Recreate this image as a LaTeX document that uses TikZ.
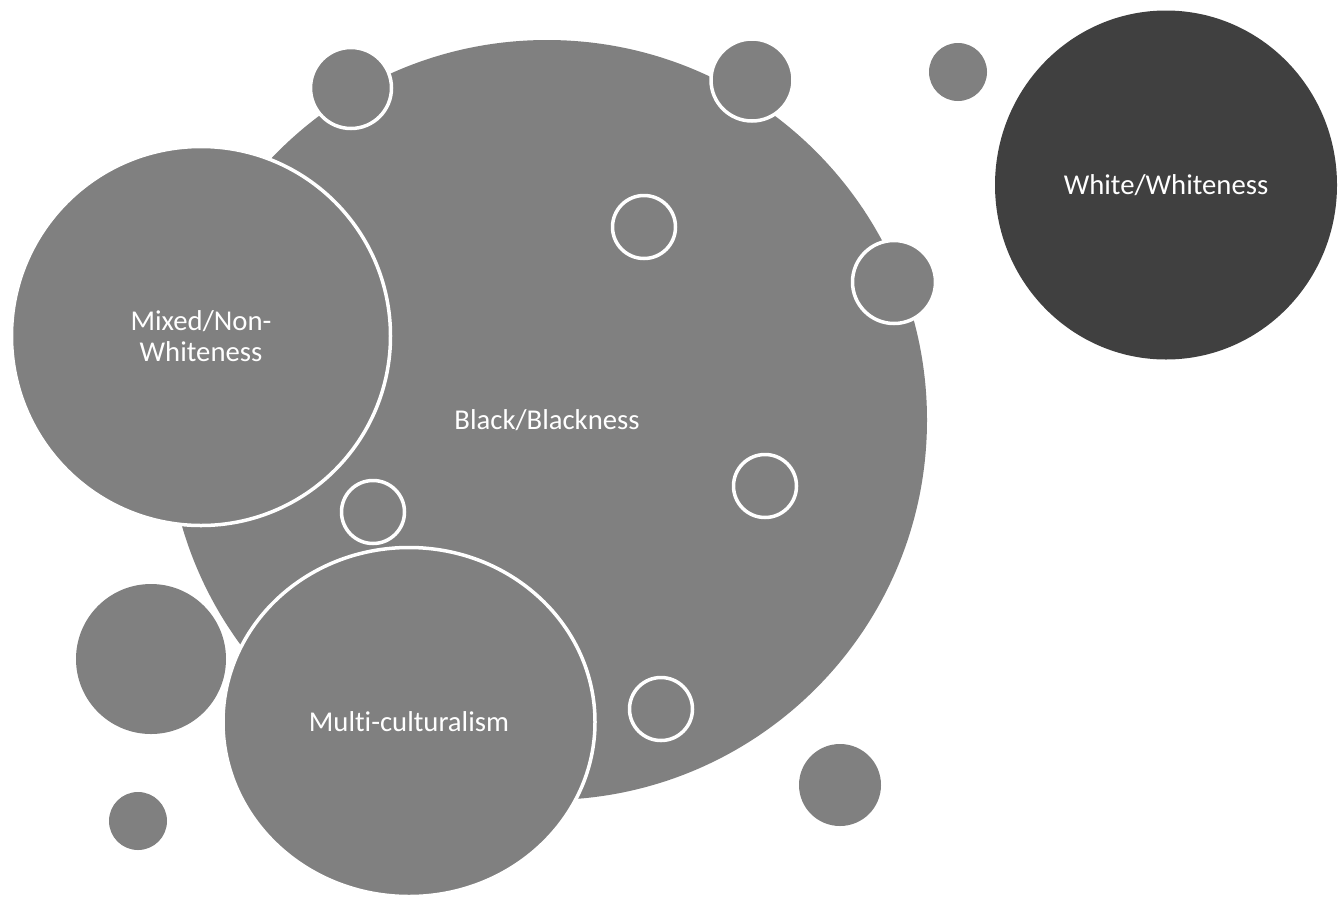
\documentclass[tikz,border=0pt]{standalone}
\usepackage{fontspec}
\setmainfont{Carlito}[Ligatures=NoCommon]
\usetikzlibrary{shapes.geometric}
\definecolor{bubgray}{HTML}{808080}
\definecolor{bubdark}{HTML}{404040}
\tikzset{
  bub/.style={circle, fill=bubgray, inner sep=0pt, minimum size=#1},
  rimbub/.style={circle, fill=bubgray, draw=white, line width=3.5pt, inner sep=0pt, minimum size=#1},
  ringbub/.style={circle, draw=white, line width=3.5pt, inner sep=0pt, minimum size=#1},
  lbl/.style={text=white, font=\fontsize{28.7}{31.5}\selectfont, align=center},
}
\begin{document}
\begin{tikzpicture}[x=1pt, y=-1pt]
\useasboundingbox[fill=white] (0,0) rectangle (1343,900);
% main circle
\node[bub=760pt] (black) at (547,420) {};
% circles on the rim of the main one
\node[rimbub=81pt] (ta) at (351,88) {};
\node[rimbub=82pt] (tb) at (752,80) {};
\node[rimbub=83pt] (tc) at (894,282) {};
% free small circles
\node[bub=58pt] (sa) at (958,72) {};
\node[bub=150pt] (sb) at (151,659) {};
\node[bub=58pt] (sc) at (138,821) {};
\node[bub=82pt] (sd) at (840,785) {};
% large labelled circles
\node[rimbub=379pt] (mixed) at (201,336) {};
\node[ellipse, fill=bubgray, draw=white, line width=3.5pt, inner sep=0pt, minimum width=372pt, minimum height=349pt] (multi) at (409,722) {};
\node[ellipse, fill=bubdark, inner sep=0pt, minimum width=342pt, minimum height=349pt] (white) at (1166,185) {};
% rings
\node[ringbub=63pt] (ra) at (644,227) {};
\node[ringbub=63pt] (rb) at (765,486) {};
\node[ringbub=63pt] (rc) at (373,512) {};
\node[ringbub=63pt] (rd) at (661,709) {};
% labels
\node[lbl] (tblack) at (black.center) {Black/Blackness};
\node[lbl] (tmixed) at (201,336) {Mixed/Non-\\Whiteness};
\node[lbl] (tmulti) at (multi.center) {Multi-culturalism};
\node[lbl] (twhite) at (white.center) {White/Whiteness};
\end{tikzpicture}
\end{document}
